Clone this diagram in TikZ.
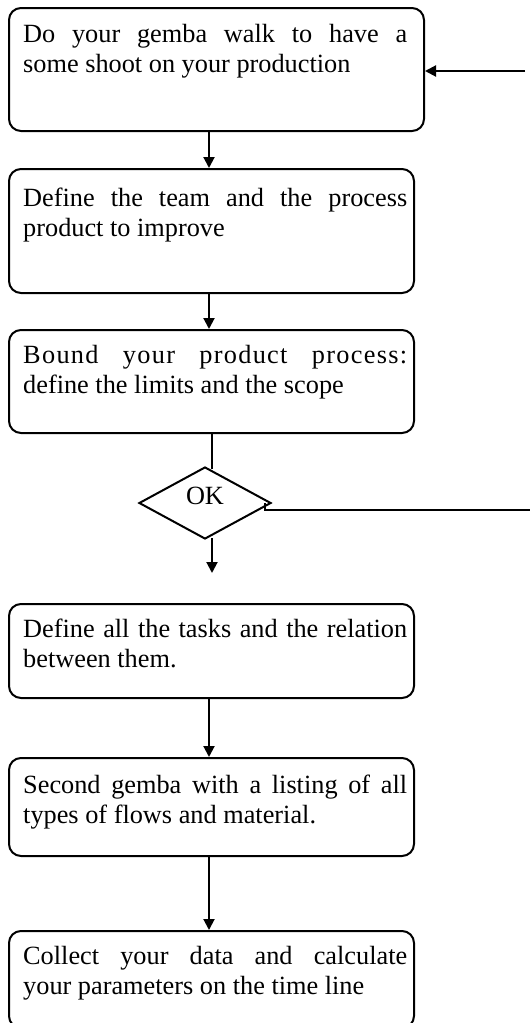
\documentclass[tikz,border=0pt]{standalone}
\usepackage{fontspec}
\setmainfont{Liberation Serif}
\usetikzlibrary{shapes.geometric,arrows.meta}
\hyphenpenalty=10000
\exhyphenpenalty=10000
\tikzset{
  stepbox/.style={draw, line width=2pt, rounded corners=12pt, inner sep=0pt},
  boxtext/.style={anchor=north west, inner sep=0pt, text width=384pt, align=justify,
    font=\fontsize{26.3}{30}\selectfont},
  conn/.style={line width=2pt},
  arr/.style={conn, -{Triangle[length=11pt,width=11pt]}},
}
\newcommand{\mybox}[5]{% name, left, top, right, bottom
  \node[stepbox, minimum width={#4-#2}, minimum height={#5-#3}, anchor=north west] (#1) at (#2,#3) {};
}
\begin{document}
\begin{tikzpicture}[x=1pt,y=-1pt]
\useasboundingbox (0,0) rectangle (530,1023);
\mybox{b1}{8}{7}{423}{130}
\mybox{b2}{8}{168}{413}{292}
\mybox{b3}{8}{329}{413}{432}
\mybox{b4}{8}{603}{413}{697}
\mybox{b5}{8}{757}{413}{855}
\mybox{b6}{8}{930}{413}{1027}

\node[boxtext] (t1) at (23,24) {Do your gemba walk to have a\linebreak some shoot on your production};
\node[boxtext] (t2) at (23,188) {Define the team and the process\linebreak product to improve};
\node[boxtext] (t3) at (23,345) {{\addfontfeature{LetterSpace=5}Bound your product process:}\linebreak define the limits and the scope};
\node[boxtext] (t4) at (23,619) {Define all the tasks and the relation\linebreak between them.};
\node[boxtext] (t5) at (23,775) {Second gemba with a listing of all\linebreak types of flows and material.};
\node[boxtext] (t6) at (23,946) {Collect your data and calculate\linebreak your parameters on the time line};

\node[draw, diamond, line width=2pt, minimum width=132pt, minimum height=72pt, inner sep=0pt] (dia) at (205,503) {};
\node[font=\fontsize{26.3}{30}\selectfont, inner sep=0pt] (ok) at (205,496) {OK};

\coordinate (cA) at (209,0);
\coordinate (cB) at (212,0);
\coordinate (inR) at (525,71);
\coordinate (outR) at (530,510);
\coordinate (stub) at (265,503);
\coordinate (down) at (212,573);

\draw[arr] (inR) -- (b1.east |- inR);
\draw[arr] (b1.south -| cA) -- (b2.north -| cA);
\draw[arr] (b2.south -| cA) -- (b3.north -| cA);
\draw[conn] (b3.south -| cB) -- (212,469);
\draw[arr] (212,538) -- (down);
\draw[conn] (stub) -- (265,510) -- (outR);
\draw[arr] (b4.south -| cA) -- (b5.north -| cA);
\draw[arr] (b5.south -| cA) -- (b6.north -| cA);
\end{tikzpicture}
\end{document}
